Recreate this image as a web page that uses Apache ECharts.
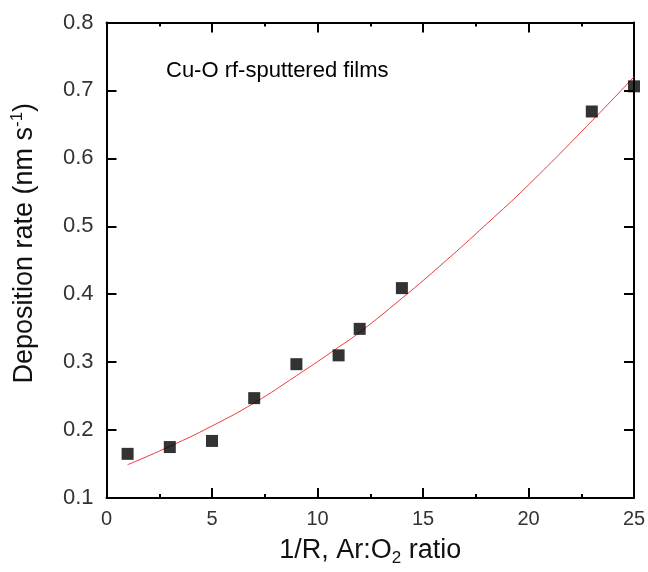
<!DOCTYPE html>
<html>
<head>
<meta charset="utf-8">
<script src="https://cdn.jsdelivr.net/npm/echarts@6/dist/echarts.min.js"></script>
<style>html,body{margin:0;padding:0;background:#fff;overflow:hidden}#c{width:648px;height:572px}</style>
</head>
<body>
<div id="c"></div>
<script>
// Measured deposition rates
const ratioX = [1, 3, 5, 7, 9, 11, 12, 14, 23, 25];
const depositionRate = [0.165, 0.175, 0.184, 0.247, 0.297, 0.310, 0.349, 0.409, 0.669, 0.706];
// Fitted curve
const fitX = [1, 3, 5, 7, 9, 11, 12, 14, 16, 18, 20, 23, 25];
const fitY = [0.149, 0.176, 0.206, 0.240, 0.280, 0.322, 0.344, 0.394, 0.447, 0.503, 0.561, 0.655, 0.720];
const annotation = 'Cu-O rf-sputtered films';

const chart = echarts.init(document.getElementById('c'), null, {renderer: 'canvas'});
const FONT = 'Liberation Sans, Arial, sans-serif';
const axisLine = {show: true, onZero: false, lineStyle: {color: '#000', width: 2}};
const tickStyle = {lineStyle: {color: '#000', width: 2}};

chart.setOption({
  backgroundColor: '#fff',
  animation: false,
  grid: {left: 106.5, right: 14, top: 22.5, bottom: 74, containLabel: false, outerBoundsMode: 'none'},
  xAxis: [{
    type: 'value', min: 0, max: 25, interval: 5, position: 'bottom',
    axisLine: axisLine,
    axisTick: Object.assign({inside: true, length: 10}, tickStyle),
    minorTick: {show: true, splitNumber: 2, length: 4, lineStyle: {color: '#000', width: 2}},
    splitLine: {show: false},
    axisLabel: {fontFamily: FONT, fontSize: 20, color: '#333', margin: 11},
    name: '{a|1/R, Ar:O}{sub|2}{a| ratio}',
    nameLocation: 'middle', nameGap: 37,
    nameTextStyle: {
      rich: {
        a: {fontFamily: FONT, fontSize: 27, color: '#111', lineHeight: 32, verticalAlign: 'middle'},
        sub: {fontFamily: FONT, fontSize: 17, color: '#111', lineHeight: 32, verticalAlign: 'bottom'}
      }
    }
  }, {
    type: 'value', min: 0, max: 25, interval: 5, position: 'top',
    axisLine: axisLine,
    axisTick: Object.assign({inside: true, length: 10}, tickStyle),
    minorTick: {show: true, splitNumber: 2, length: 4, lineStyle: {color: '#000', width: 2}},
    splitLine: {show: false},
    axisLabel: {show: false}
  }],
  yAxis: [{
    type: 'value', min: 0.1, max: 0.8, interval: 0.1, position: 'left',
    axisLine: axisLine,
    axisTick: Object.assign({inside: true, length: 10}, tickStyle),
    splitLine: {show: false},
    axisLabel: {fontFamily: FONT, fontSize: 22, color: '#333', margin: 13, formatter: v => v.toFixed(1)},
    name: '{a|Deposition rate (nm s}{sup|-1}{a|)}',
    nameLocation: 'middle', nameGap: 66, nameRotate: 90,
    nameTextStyle: {
      padding: [0, 0, 0, 34],
      rich: {
        a: {fontFamily: FONT, fontSize: 27, color: '#111', lineHeight: 32, verticalAlign: 'middle'},
        sup: {fontFamily: FONT, fontSize: 17, color: '#111', lineHeight: 32, verticalAlign: 'top'}
      }
    }
  }, {
    type: 'value', min: 0.1, max: 0.8, interval: 0.1, position: 'right',
    axisLine: axisLine,
    axisTick: Object.assign({inside: true, length: 10}, tickStyle),
    splitLine: {show: false},
    axisLabel: {show: false}
  }],
  graphic: [{
    type: 'text', left: 166, top: 60,
    style: {text: annotation, font: '22px ' + FONT, fill: '#000'}
  }],
  series: [{
    type: 'line', name: 'fit', smooth: true, showSymbol: false, symbol: 'none',
    data: fitX.map((x, i) => [x, fitY[i]]),
    lineStyle: {color: '#ee3a3a', width: 1}, z: 2, clip: false
  }, {
    type: 'scatter', name: 'data', symbol: 'rect', symbolSize: 12,
    data: ratioX.map((x, i) => [x, depositionRate[i]]),
    itemStyle: {color: '#000'}, z: 3, clip: false
  }]
});
</script>
</body>
</html>
